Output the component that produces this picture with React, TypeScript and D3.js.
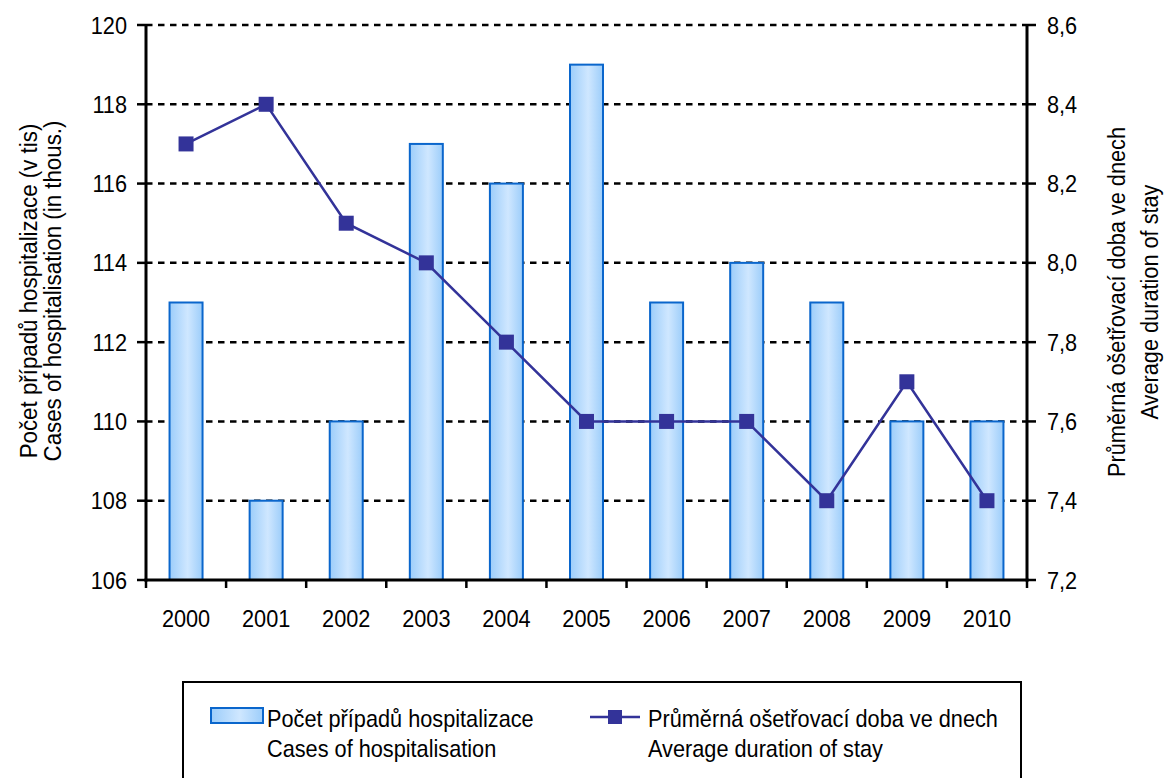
import React from "react";
import * as d3 from "d3";

const years = ["2000","2001","2002","2003","2004","2005","2006","2007","2008","2009","2010"];
const cases = [113, 108, 110, 117, 116, 119, 113, 114, 113, 110, 110];
const duration = [8.3, 8.4, 8.1, 8.0, 7.8, 7.6, 7.6, 7.6, 7.4, 7.7, 7.4];
const leftTicks = [106, 108, 110, 112, 114, 116, 118, 120];
const rightTicks = [7.2, 7.4, 7.6, 7.8, 8.0, 8.2, 8.4, 8.6];
const legendBars = ["Počet případů hospitalizace", "Cases of hospitalisation"];
const legendLine = ["Průměrná ošetřovací doba ve dnech", "Average duration of stay"];
const titleLeft = ["Počet případů hospitalizace (v tis)", "Cases of hospitalisation (in thous.)"];
const titleRight = ["Průměrná ošetřovací doba ve dnech", "Average duration of stay"];

const W = 1165, H = 778;
const L = 146, R = 1027, T = 25, B = 580;
const FONT = "'Liberation Sans', Arial, sans-serif";
const FS = 24;
const SX = 0.905;
const LINE = "#333399";

function Txt({ x, y, anchor = "start", sx = SX, children }: { x: number; y: number; anchor?: string; sx?: number; children: React.ReactNode }) {
  return (
    <text transform={`translate(${x},${y}) scale(${sx},1)`} textAnchor={anchor as any}
      fontFamily={FONT} fontSize={FS} fill="#000">{children}</text>
  );
}

export default function App() {
  const x = d3.scaleBand<string>().domain(years).range([L, R]).padding(0);
  const yL = d3.scaleLinear().domain([106, 120]).range([B, T]);
  const yR = d3.scaleLinear().domain([7.2, 8.6]).range([B, T]);
  const bw = 33;
  const cx = (y: string) => (x(y) as number) + x.bandwidth() / 2;
  const line = d3.line<number>().x((_, i) => cx(years[i])).y(d => yR(d));
  const fmtR = (v: number) => v.toFixed(1).replace(".", ",");
  const boundaries = d3.range(years.length + 1).map(i => L + i * x.bandwidth());

  return (
    <svg width={W} height={H} style={{ position: "absolute", left: 0, top: 0, display: "block" }}>
      <defs>
        <linearGradient id="barGrad" x1="0" x2="1" y1="0" y2="0">
          <stop offset="0" stopColor="#9ccdfa" />
          <stop offset="0.55" stopColor="#cfe7ff" />
          <stop offset="1" stopColor="#9ccdfa" />
        </linearGradient>
      </defs>
      <rect x={0} y={0} width={W} height={H} fill="#fff" />
      {leftTicks.filter(t => t !== 106).map(t => (
        <line key={t} x1={L} x2={R} y1={yL(t)} y2={yL(t)} stroke="#000" strokeWidth={2.5} strokeDasharray="6.5,5.5" />
      ))}
      {years.map((y, i) => (
        <rect key={y} x={cx(y) - bw / 2} y={yL(cases[i])} width={bw} height={B - yL(cases[i])}
          fill="url(#barGrad)" stroke="#0a66cc" strokeWidth={2} />
      ))}
      <line x1={L} x2={L} y1={T - 1} y2={B + 1.5} stroke="#000" strokeWidth={3} />
      <line x1={R} x2={R} y1={T - 1} y2={B + 1.5} stroke="#000" strokeWidth={3} />
      <line x1={L - 1.5} x2={R + 1.5} y1={B} y2={B} stroke="#000" strokeWidth={3} />
      {leftTicks.map(t => (
        <g key={t}>
          <line x1={L - 9} x2={L} y1={yL(t)} y2={yL(t)} stroke="#000" strokeWidth={2.5} />
          <Txt x={127} y={yL(t) + 8.5} anchor="end">{t}</Txt>
        </g>
      ))}
      {rightTicks.map(t => (
        <g key={t}>
          <line x1={R} x2={R + 9} y1={yR(t)} y2={yR(t)} stroke="#000" strokeWidth={2.5} />
          <Txt x={1047} y={yR(t) + 8.5}>{fmtR(t)}</Txt>
        </g>
      ))}
      {boundaries.map((b, i) => (
        <line key={i} x1={b} x2={b} y1={B} y2={B + 8} stroke="#000" strokeWidth={2.5} />
      ))}
      {years.map(y => (
        <Txt key={y} x={cx(y)} y={627} anchor="middle">{y}</Txt>
      ))}
      <path d={line(duration) as string} fill="none" stroke={LINE} strokeWidth={2.5} />
      {duration.map((d, i) => (
        <rect key={i} x={cx(years[i]) - 7.5} y={yR(d) - 7.5} width={15} height={15} fill={LINE} />
      ))}
      <g transform="translate(37,291) rotate(-90)">
        <Txt x={0} y={0} anchor="middle" sx={0.93}>{titleLeft[0]}</Txt>
        <Txt x={0} y={24} anchor="middle" sx={0.93}>{titleLeft[1]}</Txt>
      </g>
      <g transform="translate(1125,302) rotate(-90)">
        <Txt x={0} y={0} anchor="middle">{titleRight[0]}</Txt>
        <Txt x={0} y={33} anchor="middle">{titleRight[1]}</Txt>
      </g>
      <rect x={183} y={682} width={838} height={110} fill="#fff" stroke="#000" strokeWidth={2} />
      <rect x={211} y={708} width={52} height={15} fill="url(#barGrad)" stroke="#0a66cc" strokeWidth={2} />
      <Txt x={267} y={727}>{legendBars[0]}</Txt>
      <Txt x={267} y={757}>{legendBars[1]}</Txt>
      <line x1={590} x2={640} y1={717} y2={717} stroke={LINE} strokeWidth={2.5} />
      <rect x={608} y={710} width={14} height={14} fill={LINE} />
      <Txt x={648} y={727}>{legendLine[0]}</Txt>
      <Txt x={648} y={757}>{legendLine[1]}</Txt>
    </svg>
  );
}
